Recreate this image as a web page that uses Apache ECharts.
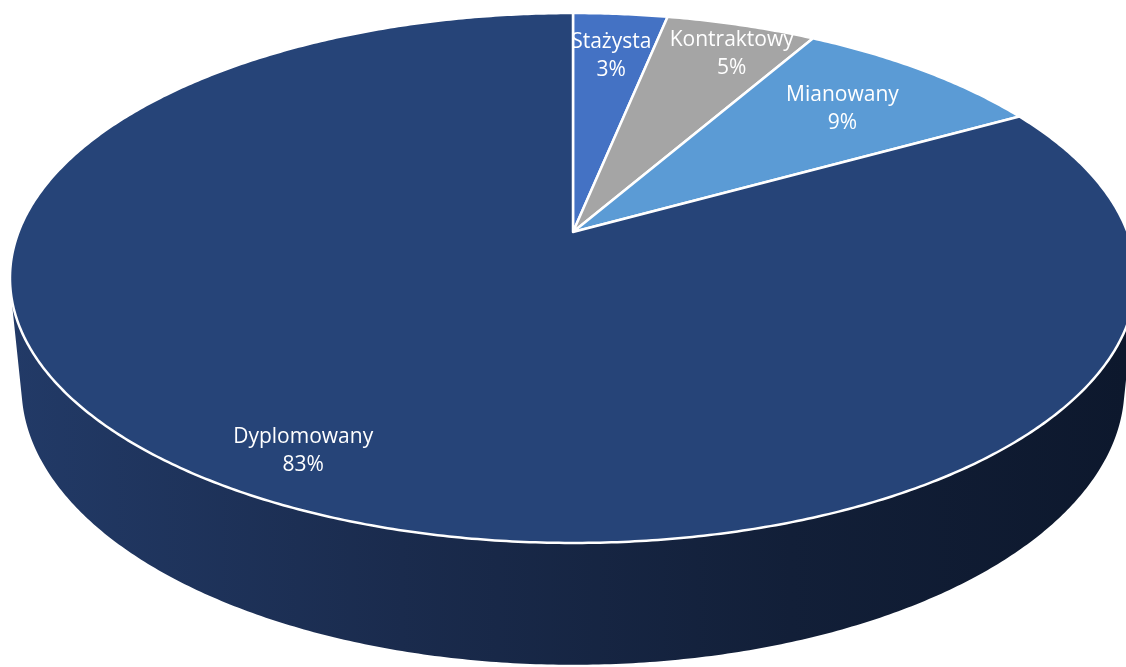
<!DOCTYPE html>
<html>
<head>
<meta charset="utf-8">
<script src="https://cdn.jsdelivr.net/npm/echarts@6/dist/echarts.min.js"></script>
<style>
html,body{margin:0;padding:0;background:#fff;}
#chart{width:1126px;height:667px;}
</style>
</head>
<body>
<div id="chart"></div>
<script>
// ---- data ----
const categories = ['Stażysta', 'Kontraktowy', 'Mianowany', 'Dyplomowany'];
const values = [3.2, 5.1, 8.6, 83.1];

// ---- styles ----
const sliceColors = ['#4472C4', '#A5A5A5', '#5B9BD5', '#264478'];
const labelRadius = [0.78, 0.85, 0.745, 0.855];
const labelAngleShift = [0, 1.8, 0, -0.7];

// view (perspective camera) settings, relative to chart size
const view = {
  cxFrac: 573 / 1126, cyFrac: 232 / 667, focalFrac: 2830 / 1126,
  dist: 5.104, elevDeg: 27.61, depth: 0.2227
};

const total = values.reduce((a, b) => a + b, 0);
const starts = [];
let acc = 0;
values.forEach(v => { starts.push(acc / total * 360); acc += v; });

function projector(api) {
  const W = api.getWidth(), H = api.getHeight();
  const cx = W * view.cxFrac, cy = H * view.cyFrac, F = W * view.focalFrac;
  const sb = Math.sin(view.elevDeg * Math.PI / 180), cb = Math.cos(view.elevDeg * Math.PI / 180);
  const L = view.dist;
  return function (phiDeg, r, Y) {
    const p = phiDeg * Math.PI / 180;
    const X = r * Math.sin(p), Z = -r * Math.cos(p);
    const d = L - Y * sb - Z * cb;
    return [cx + F * X / d, cy + F * (Z * sb - Y * cb) / d];
  };
}

function arc(proj, a0, a1, Y) {
  const pts = [];
  const n = Math.max(2, Math.ceil(Math.abs(a1 - a0) / 0.5));
  for (let i = 0; i <= n; i++) pts.push(proj(a0 + (a1 - a0) * i / n, 1, Y));
  return pts;
}

const chart = echarts.init(document.getElementById('chart'));
const seriesData = categories.map((c, i) => [i, values[i]]);

const option = {
  animation: false,
  backgroundColor: '#ffffff',
  series: [
    {
      type: 'custom', coordinateSystem: 'none', silent: true, z: 1,
      data: seriesData,
      renderItem: function (params, api) {
        const i = params.dataIndex;
        const proj = projector(api);
        const tz = 1 / (view.dist * Math.cos(view.elevDeg * Math.PI / 180));
        const phiA = 180 - Math.acos(tz) * 180 / Math.PI;
        const phiB = 180 + Math.acos(tz) * 180 / Math.PI;
        const a0 = Math.max(starts[i], phiA);
        const a1 = Math.min(starts[i] + values[i] / total * 360, phiB);
        if (a1 <= a0) return { type: 'group', children: [] };
        const top = arc(proj, a0, a1, 0);
        const bot = arc(proj, a1, a0, -view.depth);
        const W = api.getWidth();
        return {
          type: 'polygon',
          shape: { points: top.concat(bot) },
          style: {
            fill: new echarts.graphic.LinearGradient(W * 0.01, 0, W, 0, [
              { offset: 0, color: '#223a67' },
              { offset: 0.35, color: '#1a2b4d' },
              { offset: 0.7, color: '#121f38' },
              { offset: 1, color: '#0d182d' }
            ], true),
            stroke: null
          }
        };
      }
    },
    {
      type: 'custom', coordinateSystem: 'none', silent: true, z: 2,
      data: seriesData,
      renderItem: function (params, api) {
        const i = params.dataIndex;
        const proj = projector(api);
        const a0 = starts[i], a1 = starts[i] + values[i] / total * 360;
        const pts = [proj(0, 0, 0)].concat(arc(proj, a0, a1, 0));
        return {
          type: 'polygon',
          shape: { points: pts },
          style: { fill: sliceColors[i], stroke: '#ffffff', lineWidth: 2.5, lineJoin: 'round' }
        };
      }
    },
    {
      type: 'custom', coordinateSystem: 'none', silent: true, z: 3,
      data: seriesData,
      renderItem: function (params, api) {
        const i = params.dataIndex;
        const proj = projector(api);
        const mid = starts[i] + values[i] / total * 180 + labelAngleShift[i];
        const p = proj(mid, labelRadius[i], 0);
        return {
          type: 'text',
          x: p[0], y: p[1],
          style: {
            text: categories[i] + '\n' + Math.round(values[i] / total * 100) + '%',
            fill: '#ffffff',
            fontSize: 21,
            fontFamily: '"Open Sans", "Noto Sans", sans-serif',
            align: 'center',
            verticalAlign: 'middle',
            lineHeight: 28
          }
        };
      }
    }
  ]
};
chart.setOption(option);
</script>
</body>
</html>
